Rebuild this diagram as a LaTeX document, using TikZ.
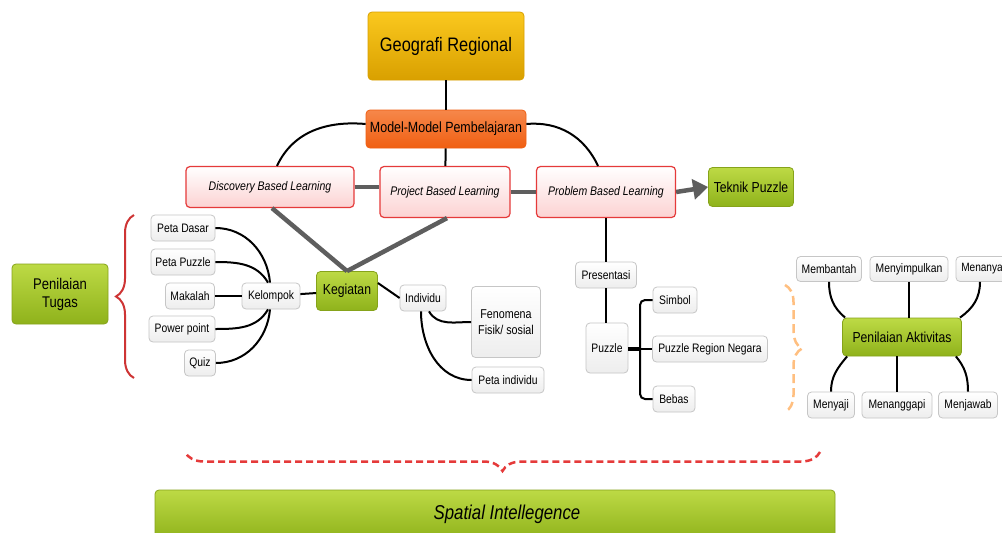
\documentclass[tikz,border=0pt]{standalone}
\usepackage{fontspec}
\setmainfont{Liberation Sans}[FakeStretch=0.84]
\usetikzlibrary{arrows.meta,decorations.pathreplacing}

\definecolor{oro1}{HTML}{FAC81E}
\definecolor{oro2}{HTML}{D9A000}
\definecolor{nar1}{HTML}{F6874A}
\definecolor{nar2}{HTML}{F05F12}
\definecolor{ver1}{HTML}{BDDA45}
\definecolor{ver2}{HTML}{8FB21B}
\definecolor{verb}{HTML}{86A31A}
\definecolor{ros1}{HTML}{FFFFFF}
\definecolor{ros2}{HTML}{FCD2D2}
\definecolor{rojo}{HTML}{E53A3A}
\definecolor{gris}{HTML}{5E5E5E}

\tikzset{
  caja/.style={rounded corners=4pt,draw=gray!45,line width=0.8pt,top color=white,bottom color=gray!14,
    inner sep=2pt,minimum height=26,font=\fontsize{12.3}{14}\selectfont,align=center},
  verde/.style={caja,draw=verb,top color=ver1,bottom color=ver2,font=\fontsize{14.5}{17}\selectfont},
  rosa/.style={caja,draw=rojo,line width=1.2pt,top color=ros1,bottom color=ros2,font=\fontsize{12.5}{15}\itshape},
  linea/.style={line width=2pt,black},
  gruesa/.style={line width=4.5pt,gris},
}

\begin{document}
\begin{tikzpicture}[x=1pt,y=-1pt]

    \useasboundingbox[fill=white] (0,0) rectangle (1002,533);

    %Nodos superiores
    \node[caja,draw=oro2,top color=oro1,bottom color=oro2,minimum width=156,minimum height=68,
          font=\fontsize{19.5}{22}\selectfont] (geo) at (446,46) {Geografi Regional};
    \node[caja,draw=nar2,top color=nar1,bottom color=nar2,minimum width=160,minimum height=38,
          font=\fontsize{14.8}{17}\selectfont] (model) at (446,129) {Model-Model Pembelajaran};
    \node[rosa,minimum width=168,minimum height=41] (disc) at (270,187) {Discovery Based Learning};
    \node[rosa,minimum width=130,minimum height=51] (proj) at (445,192) {Project Based Learning};
    \node[rosa,minimum width=139,minimum height=51] (prob) at (606,192) {Problem Based Learning};
    \node[verde,minimum width=85,minimum height=39] (tek) at (751,187) {Teknik Puzzle};

    %Kegiatan
    \node[verde,minimum width=61,minimum height=39] (keg) at (347,291) {Kegiatan};
    \node[caja,minimum width=58] (kel) at (271,296) {Kelompok};
    \node[caja,minimum width=64] (pdasar) at (183,228) {Peta Dasar};
    \node[caja,minimum width=64] (ppuzzle) at (183,262) {Peta Puzzle};
    \node[caja,minimum width=49] (makalah) at (190,296) {Makalah};
    \node[caja,minimum width=66] (ppoint) at (182,329) {Power point};
    \node[caja,minimum width=31] (quiz) at (200,363) {Quiz};
    \node[verde,minimum width=96,minimum height=60,font=\fontsize{15.5}{18}\selectfont] (tugas) at (60,294) {Penilaian\\Tugas};
    \node[caja,minimum width=46] (indiv) at (423,298) {Individu};
    \node[caja,minimum width=69,minimum height=71,font=\fontsize{12.8}{16}\selectfont] (fenom) at (506,322) {Fenomena\\Fisik/ sosial};
    \node[caja,minimum width=72] (pind) at (508,380) {Peta individu};

    %Problem
    \node[caja,minimum width=61] (pres) at (606,275) {Presentasi};
    \node[caja,minimum width=42,minimum height=50] (puzz) at (607,348) {Puzzle};
    \node[caja,minimum width=44] (simbol) at (675,300) {Simbol};
    \node[caja,minimum width=115] (region) at (710,349) {Puzzle Region Negara};
    \node[caja,minimum width=42] (bebas) at (674,399) {Bebas};

    %Aktivitas
    \node[verde,minimum width=119,minimum height=38] (akt) at (902,337) {Penilaian Aktivitas};
    \node[caja,minimum width=65,minimum height=25] (mbantah) at (829,269) {Membantah};
    \node[caja,minimum width=78,minimum height=25] (msimpul) at (909,269) {Menyimpulkan};
    \node[caja,minimum width=52,minimum height=25,font=\fontsize{12}{14}\selectfont] (mtanya) at (982,269) {Menanya};
    \node[caja,minimum width=47] (msaji) at (831,405) {Menyaji};
    \node[caja,minimum width=70] (mtanggap) at (897,405) {Menanggapi};
    \node[caja,minimum width=59] (mjawab) at (968,405) {Menjawab};

    \node[verde,minimum width=680,minimum height=50,font=\fontsize{20}{23}\itshape] (spatial) at (495,515) {};
    \node[font=\fontsize{20}{23}\itshape] at (507,514) {Spatial Intellegence};

    %Conectores grises
    \draw[gruesa] (disc.east) -- (proj.west |- disc.east);
    \draw[gruesa] (proj.east) -- (prob.west);
    \draw[gruesa,-{Triangle[length=15pt,width=20pt]}] (prob.east) -- (tek.west);
    \draw[gruesa] ([xshift=2]disc.south) -- (keg.north);
    \draw[gruesa] ([xshift=2]proj.south) -- (keg.north);

    %Conectores negros
    \draw[linea] (geo) -- (model);
    \draw[linea] (model) -- (proj);
    \draw[linea] ([yshift=5]model.west) to[out=175,in=65] ([xshift=7]disc.north);
    \draw[linea] ([yshift=5]model.east) to[out=5,in=115] ([xshift=-8]prob.north);

    \draw[linea] (keg) -- (kel);
    \draw[linea] (pdasar.east) to[out=0,in=95] ([xshift=-1]kel.north);
    \draw[linea] (ppuzzle.east) to[out=0,in=120] ([xshift=-3]kel.north);
    \draw[linea] (makalah) -- (kel);
    \draw[linea] (ppoint.east) to[out=0,in=-120] ([xshift=-3]kel.south);
    \draw[linea] (quiz.east) to[out=0,in=-95] ([xshift=-1]kel.south);

    \draw[linea] ([yshift=8]keg.east) -- (indiv.west);
    \draw[linea] ([xshift=6]indiv.south) to[out=-60,in=180] (fenom.west);
    \draw[linea] ([xshift=-2]indiv.south) to[out=-90,in=180] (pind.west);

    \draw[linea] (prob) -- (pres);
    \draw[linea] (pres) -- (pres.south |- puzz.north);
    \coordinate (pz) at (640,349);
    \draw[line width=3.5pt] (puzz.east |- pz) -- (pz);
    \draw[linea,rounded corners=5pt] (simbol.west) -| (pz) |- (bebas.west);
    \draw[linea] (pz) -- (region.west);

    \draw[linea] (mbantah.south) to[out=-90,in=140] ([xshift=3]akt.north west);
    \draw[linea] (msimpul.south) -- (msimpul.south |- akt.north);
    \draw[linea] ([xshift=-2]mtanya.south) to[out=-90,in=35] ([xshift=-2]akt.north east);
    \draw[linea] (msaji.north) to[out=90,in=-130] ([xshift=5]akt.south west);
    \draw[linea] (mtanggap.north) -- (mtanggap.north |- akt.south);
    \draw[linea] (mjawab.north) to[out=90,in=-50] ([xshift=-6]akt.south east);

    %Llaves
    \coordinate (llA) at (134,378);
    \coordinate (llB) at (134,215);
    \draw[rojo!90!black,line width=2pt,decorate,decoration={brace,amplitude=18pt}] (llA) -- (llB);
    \coordinate (llC) at (785,285);
    \coordinate (llD) at (785,412);
    \draw[orange!50,line width=2.5pt,dash pattern=on 9pt off 5pt,decorate,decoration={brace,amplitude=17pt}] (llC) -- (llD);
    \coordinate (llE) at (820,452);
    \coordinate (llF) at (185,452);
    \draw[rojo,line width=2.5pt,dash pattern=on 7pt off 4pt,decorate,decoration={brace,amplitude=19pt,aspect=0.5}] (llE) -- (llF);

\end{tikzpicture}
\end{document}
